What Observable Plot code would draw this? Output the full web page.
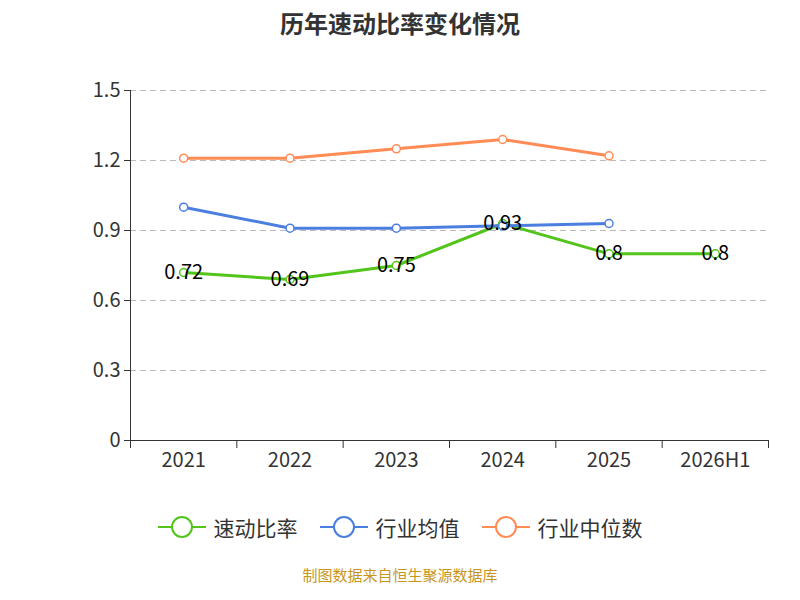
<!DOCTYPE html>
<html><head><meta charset="utf-8">
<script src="https://cdn.jsdelivr.net/npm/d3@7"></script>
<script src="https://cdn.jsdelivr.net/npm/@observablehq/plot@0.6"></script>
<style>
body{margin:0;width:800px;height:600px;background:#fff;font-family:"Noto Sans CJK SC","Noto Sans",sans-serif;}
#title{height:50px;line-height:46px;text-align:center;font-size:24px;font-weight:bold;color:#333;}
#legend{display:flex;justify-content:center;gap:22px;margin-top:32px;font-size:21px;color:#333;align-items:center;}
#legend span{display:flex;align-items:center;gap:8px;}
#cap{text-align:center;color:#c8961e;font-size:15px;margin-top:22px;}
</style></head><body>
<div id="title">历年速动比率变化情况</div>
<div id="chart"></div>
<div id="legend"></div>
<div id="cap">制图数据来自恒生聚源数据库</div>
<script>
const categories=["2021","2022","2023","2024","2025","2026H1"];
const quick=[0.72,0.69,0.75,0.93,0.8,0.8];
const avg=[1.0,0.91,0.91,0.92,0.93];
const med=[1.21,1.21,1.25,1.29,1.22];
const yTicks=[0,0.3,0.6,0.9,1.2,1.5];
const series=[["速动比率",quick,"#52c41a"],["行业均值",avg,"#4a7fe0"],["行业中位数",med,"#ff8c55"]];
const rows=series.flatMap(([n,v,c])=>v.map((y,i)=>({n,i,y,c})));
const bounds=d3.range(categories.length+1).map(i=>i-0.5);
const q=quick.map((y,i)=>({i,y}));
const p=Plot.plot({
 width:800,height:430,marginTop:40,marginBottom:40,marginLeft:130,marginRight:32,
 style:{fontSize:"20px",fontFamily:"Noto Sans CJK SC, Noto Sans, sans-serif",color:"#333"},
 x:{type:"linear",domain:[-0.5,categories.length-0.5],axis:null,label:null},
 y:{type:"linear",domain:[0,1.5],axis:null,label:null},
 marks:[
  Plot.ruleY(yTicks.filter(t=>t>0),{stroke:"#bbb",strokeDasharray:"6,4"}),
  Plot.axisX(bounds,{tickFormat:()=>"",tickSize:8,stroke:"#333",label:null}),
  Plot.axisX(d3.range(categories.length),{tickFormat:i=>categories[i],tickSize:0,tickPadding:12,fontSize:20,label:null}),
  Plot.axisY(yTicks,{tickFormat:d=>String(d),tickSize:6,tickPadding:4,fontSize:20,label:null}),
  Plot.ruleY([0],{stroke:"#333"}),
  Plot.ruleX([-0.5],{stroke:"#333"}),
  Plot.line(rows,{x:"i",y:"y",z:"n",stroke:"c",strokeWidth:3}),
  Plot.dot(rows,{x:"i",y:"y",stroke:"c",fill:"white",r:4,strokeWidth:1.5}),
  Plot.text(q,{x:"i",y:"y",text:d=>String(d.y),fill:"black",fontSize:20})
 ]
});
document.getElementById("chart").append(p);
document.getElementById("legend").innerHTML=series.map(([n,,c])=>`<span><svg width="48" height="24"><line x1="0" y1="12" x2="48" y2="12" stroke="${c}" stroke-width="2"/><circle cx="24" cy="12" r="10" fill="white" stroke="${c}" stroke-width="2"/></svg>${n}</span>`).join("");
</script></body></html>
